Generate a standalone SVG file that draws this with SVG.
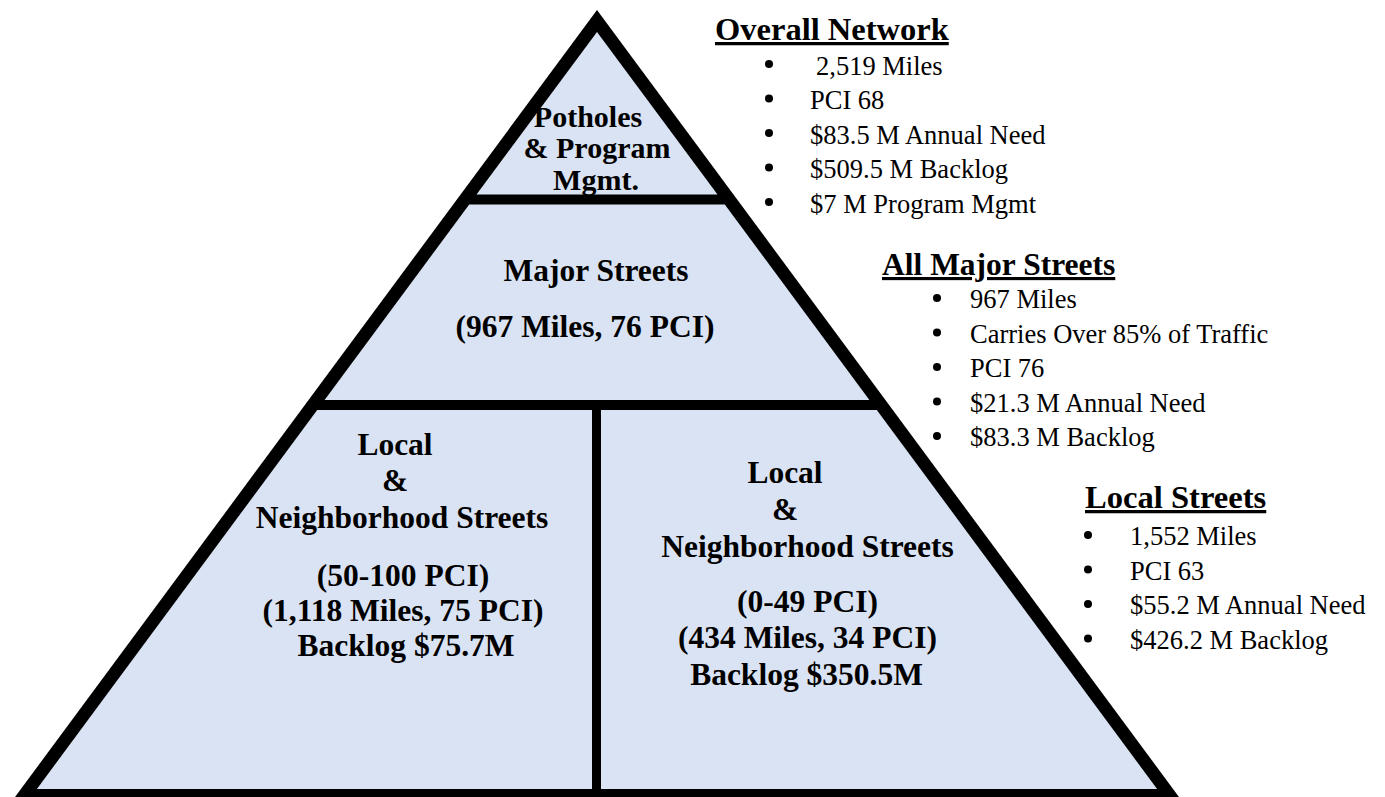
<svg xmlns="http://www.w3.org/2000/svg" width="1385" height="797" viewBox="0 0 1385 797">
  <style>
    .fill { fill: #DAE3F3; stroke: none; }
    .pt { font-family: "Liberation Serif", "Times New Roman", serif; font-weight: bold; font-size: 31.5px; fill: #000; text-anchor: middle; }
    .tp { font-size: 30px; }
    .hd { font-family: "Liberation Serif", "Times New Roman", serif; font-weight: bold; fill: #000; text-decoration: underline; }
    .it { font-family: "Liberation Serif", "Times New Roman", serif; font-size: 26.5px; fill: #000; }
    .bl { fill: #000; }
  </style>
  <rect width="1385" height="797" fill="#FFFFFF"/>
  <g id="frame">
    <polygon points="597,10 15,797 1179,797" fill="#000000"/>
  </g>
  <g id="potholes">
    <polygon class="fill" points="597,32 476.5,194.5 717.5,194.5"/>
    <text class="pt tp" x="588" y="127">Potholes</text>
    <text class="pt tp" x="597" y="158">&amp; Program</text>
    <text class="pt tp" x="596" y="189.5">Mgmt.</text>
  </g>
  <g id="major">
    <polygon class="fill" points="469.2,204.5 724.8,204.5 869.4,400 324.6,400"/>
    <text class="pt" x="596" y="281">Major Streets</text>
    <text class="pt" x="585" y="337">(967 Miles, 76 PCI)</text>
  </g>
  <g id="local-good">
    <polygon class="fill" points="317.2,410 592,410 592,789 36.9,789"/>
    <text class="pt" x="395" y="455">Local</text>
    <text class="pt" x="395" y="491">&amp;</text>
    <text class="pt" x="402" y="528">Neighborhood Streets</text>
    <text class="pt" x="403" y="586">(50-100 PCI)</text>
    <text class="pt" x="403" y="621">(1,118 Miles, 75 PCI)</text>
    <text class="pt" x="406" y="656">Backlog $75.7M</text>
  </g>
  <g id="local-poor">
    <polygon class="fill" points="601,410 876.8,410 1157.1,789 601,789"/>
    <text class="pt" x="785" y="483">Local</text>
    <text class="pt" x="785" y="520">&amp;</text>
    <text class="pt" x="807.5" y="557">Neighborhood Streets</text>
    <text class="pt" x="807.5" y="612">(0-49 PCI)</text>
    <text class="pt" x="807.5" y="648">(434 Miles, 34 PCI)</text>
    <text class="pt" x="806.5" y="685">Backlog $350.5M</text>
  </g>
  <g id="overall-network">
    <text class="hd" x="715" y="40" font-size="32.5">Overall Network</text>
    <circle class="bl" cx="769" cy="64" r="4"/>
    <text class="it" x="816" y="74.5">2,519 Miles</text>
    <circle class="bl" cx="769" cy="98.5" r="4"/>
    <text class="it" x="810" y="109">PCI 68</text>
    <circle class="bl" cx="769" cy="133" r="4"/>
    <text class="it" x="810" y="143.5">$83.5 M Annual Need</text>
    <circle class="bl" cx="769" cy="167.5" r="4"/>
    <text class="it" x="810" y="178">$509.5 M Backlog</text>
    <circle class="bl" cx="769" cy="202" r="4"/>
    <text class="it" x="810" y="212.5">$7 M Program Mgmt</text>
  </g>
  <g id="all-major-streets">
    <text class="hd" x="882" y="275" font-size="31.5">All Major Streets</text>
    <circle class="bl" cx="937" cy="298" r="4"/>
    <text class="it" x="970" y="308">967 Miles</text>
    <circle class="bl" cx="937" cy="332.5" r="4"/>
    <text class="it" x="970" y="342.5">Carries Over 85% of Traffic</text>
    <circle class="bl" cx="937" cy="367" r="4"/>
    <text class="it" x="970" y="377">PCI 76</text>
    <circle class="bl" cx="937" cy="401.5" r="4"/>
    <text class="it" x="970" y="411.5">$21.3 M Annual Need</text>
    <circle class="bl" cx="937" cy="436" r="4"/>
    <text class="it" x="970" y="446">$83.3 M Backlog</text>
  </g>
  <g id="local-streets">
    <text class="hd" x="1085" y="508" font-size="32.6">Local Streets</text>
    <circle class="bl" cx="1088" cy="535" r="4"/>
    <text class="it" x="1130" y="545">1,552 Miles</text>
    <circle class="bl" cx="1088" cy="569.5" r="4"/>
    <text class="it" x="1130" y="579.5">PCI 63</text>
    <circle class="bl" cx="1088" cy="604" r="4"/>
    <text class="it" x="1130" y="614">$55.2 M Annual Need</text>
    <circle class="bl" cx="1088" cy="638.5" r="4"/>
    <text class="it" x="1130" y="648.5">$426.2 M Backlog</text>
  </g>
  <g id="connectors"/>
</svg>
